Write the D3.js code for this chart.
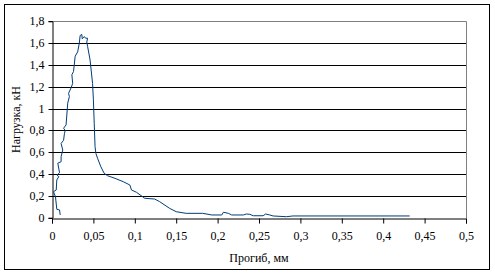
<!DOCTYPE html>
<html><head><meta charset="utf-8">
<script src="https://cdn.jsdelivr.net/npm/d3@7"></script>
<style>body{margin:0;background:#fff}svg{display:block}svg text{font-family:'Liberation Serif','Times New Roman',serif !important;font-size:12px}</style>
</head><body>
<script>
const deflection = [0.0099,0.0091,0.0058,0.0042,0.0018,0.0051,0.0058,0.0082,0.006,0.0091,0.007,0.011,0.011,0.013,0.011,0.014,0.015,0.016,0.014,0.017,0.019,0.021,0.020,0.023,0.025,0.024,0.026,0.028,0.031,0.033,0.034,0.036,0.0365,0.039,0.0405,0.043,0.042,0.043,0.046,0.049,0.050,0.051,0.052,0.053,0.055,0.059,0.063,0.067,0.076,0.086,0.094,0.096,0.102,0.112,0.124,0.130,0.142,0.150,0.162,0.182,0.193,0.205,0.207,0.213,0.217,0.231,0.235,0.239,0.243,0.255,0.258,0.263,0.267,0.283,0.291,0.432];
const load = [0.025,0.071,0.077,0.192,0.238,0.254,0.346,0.376,0.39,0.412,0.50,0.513,0.559,0.62,0.68,0.71,0.77,0.80,0.82,0.85,1.05,1.11,1.14,1.19,1.23,1.31,1.34,1.48,1.52,1.60,1.67,1.68,1.64,1.66,1.645,1.645,1.61,1.57,1.445,1.23,1.08,0.865,0.65,0.59,0.545,0.467,0.407,0.385,0.361,0.33,0.30,0.254,0.233,0.178,0.171,0.147,0.086,0.055,0.04,0.04,0.025,0.025,0.05,0.04,0.025,0.025,0.034,0.031,0.018,0.018,0.034,0.025,0.016,0.009,0.016,0.016];
const xTicks = [0,0.05,0.1,0.15,0.2,0.25,0.3,0.35,0.4,0.45,0.5];
const yTicks = [0,0.2,0.4,0.6,0.8,1,1.2,1.4,1.6,1.8];
const xTitle = "Прогиб, мм";
const yTitle = "Нагрузка, кН";

const W = 495, H = 275;
const L = 52, R = 466, T = 21.3, B = 217.7;
const FONT = "'Liberation Serif','Times New Roman',serif";
const fmt = d => String(d).replace('.', ',');
const svg = d3.select("body").append("svg").attr("width", W).attr("height", H);

svg.append("rect").attr("x", 4.5).attr("y", 4.5).attr("width", 485).attr("height", 265)
  .attr("fill", "none").attr("stroke", "#000").attr("stroke-width", 1);

const x = d3.scaleLinear().domain([0, 0.5]).range([L, R]);
const y = d3.scaleLinear().domain([0, 1.8]).range([B, T]);

// gridlines
svg.append("g").selectAll("line").data(yTicks.filter(d => d > 0 && d < 1.8)).join("line")
  .attr("x1", L).attr("x2", R).attr("y1", d => Math.round(y(d)) + 0.5).attr("y2", d => Math.round(y(d)) + 0.5)
  .attr("stroke", "#000").attr("stroke-width", 1);
// plot border top & right (gray)
svg.append("path")
  .attr("d", `M${L},${Math.round(T)+0.5}H${R+0.5}V${Math.round(B)}`)
  .attr("fill", "none").attr("stroke", "#808080").attr("stroke-width", 1);

// axes
const xAxis = d3.axisBottom(x).tickValues(xTicks).tickFormat(fmt).tickSize(5).tickPadding(8);
const gx = svg.append("g").attr("transform", `translate(0,${Math.round(B)+0.5})`).call(xAxis);
const yAxis = d3.axisLeft(y).tickValues(yTicks).tickFormat(fmt).tickSize(4).tickPadding(4);
const gy = svg.append("g").attr("transform", `translate(${L+0.5},0)`).call(yAxis);
[gx, gy].forEach(g => {
  g.attr("font-family", FONT).attr("font-size", 12);
  g.select(".domain").attr("stroke", "#000");
  g.selectAll(".tick line").attr("stroke", "#000");
  g.selectAll("text").attr("fill", "#000").attr("font-family", FONT);
});
gy.selectAll(".tick").attr("transform", d => `translate(0,${Math.round(y(d)) + 0.5})`);

// titles
svg.append("text").attr("x", (L + R) / 2).attr("y", 262).attr("text-anchor", "middle")
  .attr("font-family", FONT).text(xTitle);
svg.append("text").attr("transform", `translate(20,${(T + B) / 2}) rotate(-90)`)
  .attr("text-anchor", "middle").attr("font-family", FONT).text(yTitle);

// curve
const pts = deflection.map((d, i) => [d, load[i]]);
svg.append("path").datum(pts)
  .attr("d", d3.line().x(d => x(d[0])).y(d => y(d[1])))
  .attr("fill", "none").attr("stroke", "#003d7a").attr("stroke-width", 1);
</script>
</body></html>
